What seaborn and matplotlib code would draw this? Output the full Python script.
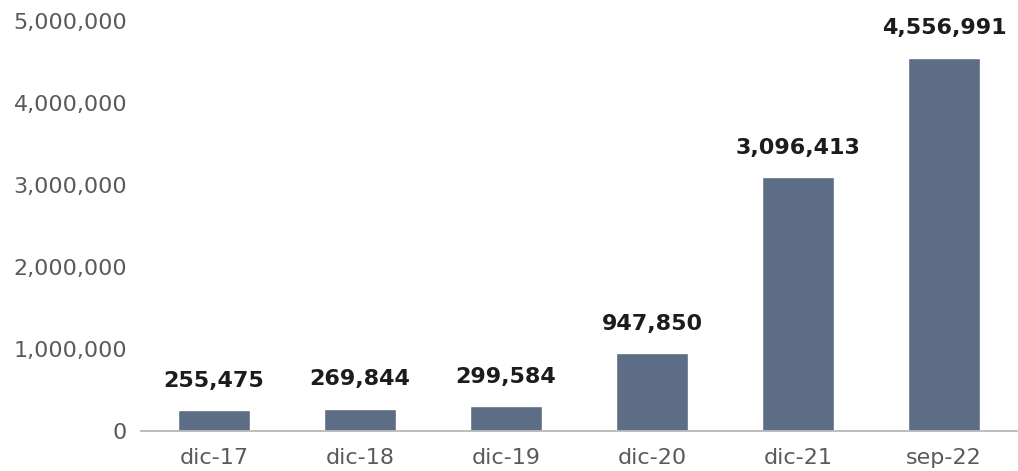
import matplotlib
matplotlib.use("Agg")
import matplotlib.pyplot as plt
import matplotlib.ticker as mticker
import seaborn as sns
import pandas as pd

categories = ["dic-17", "dic-18", "dic-19", "dic-20", "dic-21", "sep-22"]
values = [255475, 269844, 299584, 947850, 3096413, 4556991]
yticks = [0, 1000000, 2000000, 3000000, 4000000, 5000000]

sns.set_theme(style="white")
plt.rcParams["font.family"] = ["DejaVu Sans"]

df = pd.DataFrame({"cat": categories, "val": values})

fig = plt.figure(figsize=(10.18, 4.71), dpi=100)
ax = fig.add_axes([0.1385, 0.085, 0.8605, 0.87])
sns.barplot(data=df, x="cat", y="val", color="#5d6d86", width=0.49,
            saturation=1, ax=ax)

ax.set_xlim(-0.5, 5.5)
ax.set_ylim(0, 5000000)
ax.set_yticks(yticks)
ax.yaxis.set_major_formatter(mticker.FuncFormatter(lambda v, p: f"{int(v):,}"))
ax.set_xlabel("")
ax.set_ylabel("")
for s in ["top", "right", "left"]:
    ax.spines[s].set_visible(False)
ax.spines["bottom"].set_color("#b8b8b8")
ax.spines["bottom"].set_linewidth(1.3)
ax.tick_params(axis="y", length=0, pad=10, labelsize=16, labelcolor="#5a5a5a")
ax.tick_params(axis="x", length=0, pad=12, labelsize=16, labelcolor="#5a5a5a")

for i, v in enumerate(values):
    ax.annotate(f"{v:,}", (i, v), xytext=(0, 14), textcoords="offset points",
                ha="center", va="bottom", fontsize=16, fontweight="bold",
                color="#1c1c1c")

fig.savefig("out.png", dpi=100, facecolor="white")
